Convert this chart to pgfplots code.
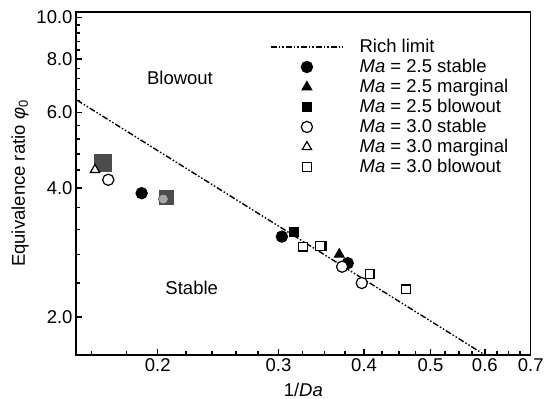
\documentclass[border=0pt]{standalone}
\usepackage{fontspec}
\setmainfont{Liberation Sans}
\usepackage{pgfplots}
\pgfplotsset{compat=1.18}
\pgfplotsset{legend image code/.code={\draw[mark repeat=2,mark phase=2,#1] plot coordinates {(-27.5bp,0cm) (8.5bp,0cm) (44.5bp,0cm)};}}
\newcommand\ff{\fontsize{18.5bp}{22bp}\selectfont}
\begin{document}
\begin{tikzpicture}[font=\ff]
\begin{axis}[name=ax,
  scale only axis, width=454.7bp, height=343bp,
  xmode=log, ymode=log,
  xmin=0.152, xmax=0.7, ymin=1.63, ymax=10.3,
  xtick={0.2,0.3,0.4,0.5,0.6,0.7},
  xticklabels={0.2,0.3,0.4,0.5,0.6,0.7},
  ytick={2,4,6,8,10},
  yticklabels={2.0,4.0,6.0,8.0,10.0},
  minor xtick={0.16,0.18,0.22,0.24,0.26,0.28,0.325,0.35,0.375,0.425,0.45,0.475,0.525,0.55,0.575,0.625,0.65,0.675},
  minor ytick={2.4,2.8,3.2,3.6,4.4,4.8,5.2,5.6,6.4,6.8,7.2,7.6,8.4,8.8,9.2,9.6},
  tick align=inside, xtick pos=bottom, ytick pos=left,
  major tick length=6bp, minor tick length=4bp,
  every tick/.style={black, line width=1.5bp},
  axis line style={line width=1.5bp},
  tick label style={font=\ff},
  label style={font=\ff},
  xlabel={1/\textit{Da}},
  ylabel={Equivalence ratio \textit{φ}\textsubscript{0}},
  xlabel style={at={(axis description cs:0.5,-0.102)}, anchor=center, inner sep=0pt},
  ylabel style={at={(axis description cs:-0.123,0.5)}, anchor=center, inner sep=0pt},
  clip=true,
  legend style={at={(0.4267,0.926)}, anchor=north west, draw=none, fill=none,
    inner sep=0pt, font=\ff, row sep=1.1bp, column sep=14bp,
    cells={anchor=west, inner sep=1bp}},
]
% grey overlaid markers
\addplot[only marks, mark=square*, mark size=8.5bp, draw=black!70, fill=black!70, forget plot]
  coordinates {(0.1661,4.57)};
\addplot[only marks, mark=square*, mark size=7bp, draw=black!70, fill=black!70, forget plot]
  coordinates {(0.2056,3.80)};
% rich limit
\addplot[black, line width=1.4bp, dash pattern=on 6bp off 2bp on 1.5bp off 2bp on 1.5bp off 2bp]
  coordinates {(0.14,6.986) (0.65,1.505)};
\addlegendentry{Rich limit}
\addplot[only marks, mark=*, mark size=5.6bp, draw=black, fill=black, mark options={line width=1.2bp}]
  coordinates {(0.1895,3.89) (0.3035,3.08) (0.3787,2.67)};
\addlegendentry{\textit{Ma} = 2.5 stable}
\addplot[only marks, mark=triangle*, mark size=5.4bp, draw=black, fill=black, mark options={line width=1.2bp}]
  coordinates {(0.368,2.80)};
\addlegendentry{\textit{Ma} = 2.5 marginal}
\addplot[only marks, mark=square*, mark size=4.4bp, draw=black, fill=black, mark options={line width=1.2bp}]
  coordinates {(0.3164,3.15) (0.3474,2.93)};
\addlegendentry{\textit{Ma} = 2.5 blowout}
\addplot[only marks, mark=*, mark size=5.6bp, draw=black, fill=white, mark options={line width=1.2bp}]
  coordinates {(0.1694,4.18) (0.3716,2.62) (0.397,2.40)};
\addlegendentry{\textit{Ma} = 3.0 stable}
\addplot[only marks, mark=triangle*, mark size=5.4bp, draw=black, fill=white, mark options={line width=1.2bp}]
  coordinates {(0.1620,4.41)};
\addlegendentry{\textit{Ma} = 3.0 marginal}
\addplot[only marks, mark=square*, mark size=4.4bp, draw=black, fill=white, mark options={line width=1.2bp}]
  coordinates {(0.3255,2.92) (0.345,2.93) (0.4074,2.52) (0.460,2.32)};
\addlegendentry{\textit{Ma} = 3.0 blowout}
\addplot[only marks, mark=*, mark size=5bp, draw=black!80, fill=black!35, forget plot]
  coordinates {(0.2038,3.77)};
\node at (rel axis cs:0.2287,0.8076) {Blowout};
\node at (rel axis cs:0.2545,0.196) {Stable};
\end{axis}
\pgfresetboundingbox
\path ([shift={(-76bp,-44bp)}]ax.south west) rectangle ([shift={(19.3bp,12bp)}]ax.north east);
\end{tikzpicture}
\end{document}
